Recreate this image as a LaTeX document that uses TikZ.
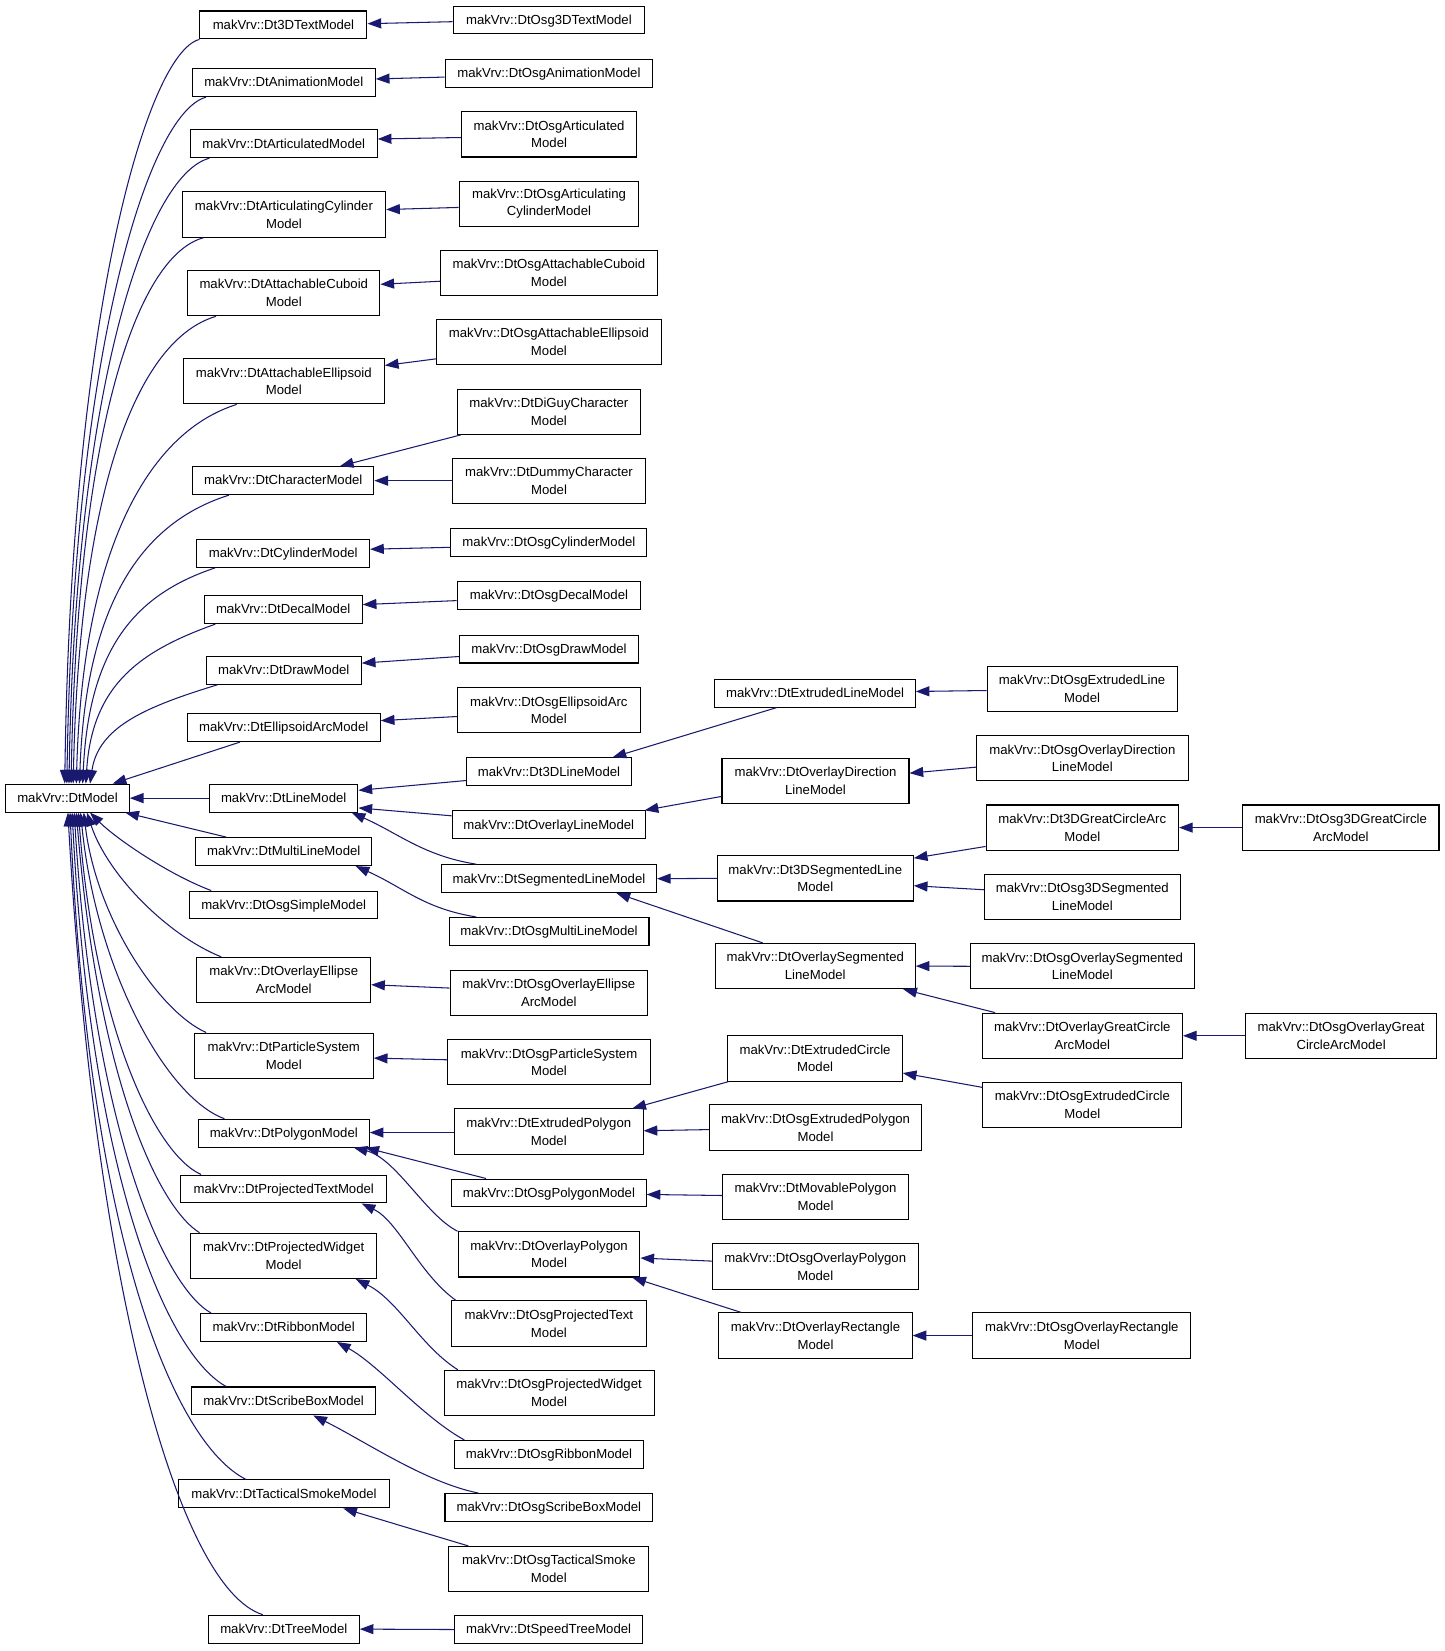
\documentclass[tikz,border=0pt]{standalone}
\usepackage{fontspec}
\setmainfont{Liberation Sans}
\usetikzlibrary{arrows.meta,calc}
\definecolor{edgeblue}{HTML}{191970}
\tikzset{
  cls/.style={draw=black, line width=1pt, fill=white, inner xsep=2pt, inner ysep=0pt, align=center, font=\fontsize{12.5pt}{16.8pt}\selectfont},
  one/.style={cls, minimum height=26.5pt, text height=9.2pt, text depth=1pt},
  two/.style={cls, minimum height=43pt},
  inh/.style={draw=edgeblue, line width=1pt, -{Triangle[length=13pt,width=9.5pt]}},
}
\newcommand\clsA[5]{\node[one, minimum width=#4pt] (#1) at (#2,#3) {makVrv::#5};}
\newcommand\clsB[6]{\node[two, minimum width=#4pt] (#1) at (#2,#3) {makVrv::#5\\#6};}
\newcommand\inhS[4]{\draw[inh] ($(#1)+(#2)$) -- ($(#3)+(#4)$);}
\newcommand\inhC[4]{\path #1 coordinate (cS); \path #4 coordinate (cE);
  \draw[inh] (cS) .. controls ($(cS)+#2$) and ($(cE)+#3$) .. (cE);}
\begin{document}
\begin{tikzpicture}[x=1pt,y=-1pt]
\fill[white] (0,0) rectangle (1372,1568);
\path[use as bounding box] (0,0) rectangle (1372,1568);
% column 1
\clsA{M}{64.1}{758}{117.4}{DtModel}
% column 2
\clsA{a1}{269.2}{23.7}{158.6}{Dt3DTextModel}
\clsA{a2}{269.5}{78.5}{173.8}{DtAnimationModel}
\clsA{a3}{269.5}{136.5}{177.5}{DtArticulatedModel}
\clsB{a4}{269.7}{203.8}{193.1}{DtArticulatingCylinder}{Model}
\clsB{a5}{269.5}{278.4}{182.6}{DtAttachableCuboid}{Model}
\clsB{a6}{269.5}{362.1}{191}{DtAttachableEllipsoid}{Model}
\clsA{a7}{269}{456.5}{172}{DtCharacterModel}
\clsA{a8}{269}{525.5}{164}{DtCylinderModel}
\clsA{a9}{269}{579}{150}{DtDecalModel}
\clsA{a10}{269.5}{636.6}{147.2}{DtDrawModel}
\clsA{a11}{269.4}{691}{183.5}{DtEllipsoidArcModel}
\clsA{a12}{269.4}{758}{141.1}{DtLineModel}
\clsA{a13}{269.5}{808.8}{167.4}{DtMultiLineModel}
\clsA{a14}{269.4}{859.5}{179.1}{DtOsgSimpleModel}
\clsB{a15}{269.5}{930.7}{165}{DtOverlayEllipse}{ArcModel}
\clsB{a16}{269.5}{1002.6}{170}{DtParticleSystem}{Model}
\clsA{a17}{269.5}{1076.2}{162.4}{DtPolygonModel}
\clsA{a18}{269.5}{1129.2}{196}{DtProjectedTextModel}
\clsB{a19}{269.4}{1192.7}{176.7}{DtProjectedWidget}{Model}
\clsA{a20}{269.4}{1260.8}{157.7}{DtRibbonModel}
\clsA{a21}{269.4}{1330.5}{175.3}{DtScribeBoxModel}
\clsA{a22}{269.7}{1418.8}{200}{DtTacticalSmokeModel}
\clsA{a23}{269.5}{1547.2}{143.4}{DtTreeModel}
% column 3
\clsA{b1}{521.3}{19}{181.7}{DtOsg3DTextModel}
\clsA{b2}{521.3}{69.5}{197}{DtOsgAnimationModel}
\clsB{b3}{521.5}{127.6}{166.1}{DtOsgArticulated}{Model}
\clsB{b4}{521.4}{193.5}{170.6}{DtOsgArticulating}{CylinderModel}
\clsB{b5}{521.3}{259.1}{205.7}{DtOsgAttachableCuboid}{Model}
\clsB{b6}{521.3}{324.8}{213.3}{DtOsgAttachableEllipsoid}{Model}
\clsB{b7}{521.3}{391}{174.1}{DtDiGuyCharacter}{Model}
\clsB{b8}{521.4}{456.5}{182.6}{DtDummyCharacter}{Model}
\clsA{b9}{521.3}{515}{186.1}{DtOsgCylinderModel}
\clsA{b10}{521.3}{565.2}{174.1}{DtOsgDecalModel}
\clsA{b11}{521.4}{616.4}{170.3}{DtOsgDrawModel}
\clsB{b12}{521.2}{674.6}{173.7}{DtOsgEllipsoidArc}{Model}
\clsA{b13}{521.4}{733}{156.9}{Dt3DLineModel}
\clsA{b14}{521.2}{783.3}{183.5}{DtOverlayLineModel}
\clsA{b15}{521.4}{834.5}{204.1}{DtSegmentedLineModel}
\clsA{b16}{521.4}{884.6}{189.9}{DtOsgMultiLineModel}
\clsB{b17}{521.2}{943.2}{187.3}{DtOsgOverlayEllipse}{ArcModel}
\clsB{b18}{521.4}{1008.9}{192.9}{DtOsgParticleSystem}{Model}
\clsB{b19}{521.2}{1074.7}{179.1}{DtExtrudedPolygon}{Model}
\clsA{b20}{521.3}{1133}{184.6}{DtOsgPolygonModel}
\clsB{b21}{521.4}{1191.3}{172.7}{DtOverlayPolygon}{Model}
\clsB{b22}{521.3}{1257}{184.6}{DtOsgProjectedText}{Model}
\clsB{b23}{521.5}{1322.9}{199.3}{DtOsgProjectedWidget}{Model}
\clsA{b24}{521.4}{1381.3}{180.2}{DtOsgRibbonModel}
\clsA{b25}{521.3}{1431.7}{197.4}{DtOsgScribeBoxModel}
\clsB{b26}{521.2}{1490.2}{189.9}{DtOsgTacticalSmoke}{Model}
\clsA{b27}{521}{1547.2}{178}{DtSpeedTreeModel}
% column 4
\clsA{c1}{774.1}{658.3}{190.2}{DtExtrudedLineModel}
\clsB{c2}{774.5}{741.6}{177.6}{DtOverlayDirection}{LineModel}
\clsB{c3}{774.3}{834.2}{186.1}{Dt3DSegmentedLine}{Model}
\clsB{c4}{774.3}{917.5}{189.8}{DtOverlaySegmented}{LineModel}
\clsB{c5}{774.1}{1005.2}{165.6}{DtExtrudedCircle}{Model}
\clsB{c6}{774.5}{1070.9}{201.5}{DtOsgExtrudedPolygon}{Model}
\clsB{c7}{774.5}{1136.8}{176}{DtMovablePolygon}{Model}
\clsB{c8}{774.3}{1202.8}{195.2}{DtOsgOverlayPolygon}{Model}
\clsB{c9}{774.5}{1268.4}{183.5}{DtOverlayRectangle}{Model}
% column 5
\clsB{d1}{1027.7}{654.4}{180.3}{DtOsgExtrudedLine}{Model}
\clsB{d2}{1027.9}{720.2}{201.2}{DtOsgOverlayDirection}{LineModel}
\clsB{d3}{1027.9}{786}{182.7}{Dt3DGreatCircleArc}{Model}
\clsB{d4}{1027.9}{851.8}{186.1}{DtOsg3DSegmented}{LineModel}
\clsB{d5}{1027.9}{917.7}{212.8}{DtOsgOverlaySegmented}{LineModel}
\clsB{d6}{1027.9}{983.7}{190.3}{DtOverlayGreatCircle}{ArcModel}
\clsB{d7}{1027.9}{1049.5}{188.9}{DtOsgExtrudedCircle}{Model}
\clsB{d8}{1027.5}{1268.4}{207}{DtOsgOverlayRectangle}{Model}
% column 6
\clsB{e1}{1273.4}{786}{186.5}{DtOsg3DGreatCircle}{ArcModel}
\clsB{e2}{1273.7}{983.7}{181.6}{DtOsgOverlayGreat}{CircleArcModel}

% straight inheritance edges
\inhS{b1.west}{0,1.6}{a1.east}{0,-1.2}
\inhS{b2.west}{0,3.7}{a2.east}{0,-3.5}
\inhS{b3.west}{0,3}{a3.east}{0,-4.5}
\inhS{b4.west}{0,3.5}{a4.east}{0,-4.8}
\inhS{b5.west}{0,8}{a5.east}{0,-8.4}
\inhS{b6.west}{0,16}{a6.east}{0,-15}
\inhS{b7.south west}{4,0}{a7.north}{53.8,0}
\inhS{b8.west}{0,0}{a7.east}{0,0}
\inhS{b9.west}{0,4.8}{a8.east}{0,-3.9}
\inhS{b10.west}{0,5.2}{a9.east}{0,-4.8}
\inhS{b11.west}{0,7.1}{a10.east}{0,-6.8}
\inhS{b12.west}{0,5.9}{a11.east}{0,-6.6}
\inhS{c1.south}{-36.6,0}{b13.north}{60.4,0}
\inhS{b13.west}{0,8.3}{a12.east}{0,-7.4}
\inhS{b14.west}{0,-8.5}{a12.east}{0,9.3}
\inhS{c2.west}{0,14.8}{b14.north east}{-1.2,0}
\inhS{c3.west}{0,0}{b15.east}{0,0}
\inhS{c4.north}{-49.9,0}{b15.south}{64.1,0}
\inhS{b17.west}{0,-4.8}{a15.east}{0,4.5}
\inhS{b18.west}{0,-2.4}{a16.east}{0,2.3}
\inhS{b19.west}{0,0.9}{a17.east}{0,-0.6}
\inhS{c5.south west}{1.2,0}{b19.north}{79.3,0}
\inhS{c6.west}{0,1.9}{b19.east}{0,-0.8}
\inhS{b20.north}{-59.7,0}{a17.south}{77.5,0}
\inhS{c7.west}{0,-1.4}{b20.east}{0,1.4}
\inhS{c8.west}{0,-5.1}{b21.east}{0,3.5}
\inhS{c9.north}{-70.7,0}{b21.south}{79.1,0}
\inhS{b26.north}{-76.4,0}{a22.south}{56.3,0}
\inhS{b27.west}{0,0.4}{a23.east}{0,0}
\inhS{d1.west}{0,1.4}{c1.east}{0,-1.6}
\inhS{d2.west}{0,8.4}{c2.east}{0,-7.3}
\inhS{d3.west}{0,17.9}{c3.east}{0,-19.2}
\inhS{d4.west}{0,-6.8}{c3.east}{0,7}
\inhS{d5.west}{0,0}{c4.east}{0,0}
\inhS{d6.north}{-82.9,0}{c4.south}{83.5,0}
\inhS{d7.west}{0,-16.8}{c5.east}{0,13.9}
\inhS{d8.west}{0,0}{c9.east}{0,0}
\inhS{e1.west}{0,0}{d3.east}{0,0}
\inhS{e2.west}{0,0}{d6.east}{0,0}
\inhS{a12.west}{0,0}{M.east}{0,0}
\inhS{a11.south}{-41.4,0}{M.north}{42.9,0}
\inhS{a13.north}{-54.5,0}{M.south}{54.9,0}

% curved edges between columns 2 and 3
\inhC{($(b15.north)+(-69.1,0)$)}{(-50,-8)}{(45,20)}{($(a12.south)+(64.6,0)$)}
\inhC{($(b16.north)+(-69.1,0)$)}{(-50,-8)}{(45,20)}{($(a13.south)+(68.3,0)$)}
\inhC{(b21.north west)}{(-30,-15)}{(40,10)}{($(a17.south)+(66.5,0)$)}
\inhC{($(b22.north west)+(4.5,0)$)}{(-35,-25)}{(35,17)}{($(a18.south)+(74,0)$)}
\inhC{($(b23.north west)+(13.5,0)$)}{(-35,-22)}{(40,20)}{($(a19.south)+(68.4,0)$)}
\inhC{($(b24.north west)+(10.2,0)$)}{(-40,-22)}{(40,22)}{($(a20.south)+(50.6,0)$)}
\inhC{($(b25.north)+(-67.1,0)$)}{(-50,-10)}{(50,25)}{($(a21.south)+(28.1,0)$)}

% curves to DtModel from above
\inhC{(a1.south west)}{(-50,13)}{(6,-445)}{($(M.north west)+(56.6,0)$)}
\inhC{($(a2.south west)+(13.6,0)$)}{(-55,15)}{(6,-410)}{($(M.north west)+(58.6,0)$)}
\inhC{($(a3.south west)+(18.6,0)$)}{(-60,16)}{(6,-375)}{($(M.north west)+(60.6,0)$)}
\inhC{($(a4.south west)+(20.5,0)$)}{(-65,18)}{(6,-330)}{($(M.north west)+(62.6,0)$)}
\inhC{($(a5.south west)+(27.5,0)$)}{(-75,22)}{(6,-280)}{($(M.north west)+(64.6,0)$)}
\inhC{($(a6.south west)+(51.3,0)$)}{(-80,25)}{(6,-230)}{($(M.north west)+(67.6,0)$)}
\inhC{($(a7.south west)+(35,0)$)}{(-80,25)}{(6,-175)}{($(M.north west)+(70.6,0)$)}
\inhC{($(a8.south west)+(18,0)$)}{(-75,25)}{(6,-130)}{($(M.north west)+(73.6,0)$)}
\inhC{($(a9.south west)+(11,0)$)}{(-70,25)}{(6,-95)}{($(M.north west)+(76.6,0)$)}
\inhC{($(a10.south west)+(11.1,0)$)}{(-65,20)}{(8,-55)}{($(M.north west)+(80.6,0)$)}

% curves to DtModel from below
\inhC{($(a14.north west)+(21.2,0)$)}{(-40,-15)}{(25,25)}{($(M.south west)+(80.6,0)$)}
\inhC{($(a15.north west)+(23.5,0)$)}{(-50,-20)}{(20,60)}{($(M.south west)+(77.6,0)$)}
\inhC{($(a16.north west)+(11.8,0)$)}{(-45,-20)}{(12,100)}{($(M.south west)+(74.6,0)$)}
\inhC{($(a17.north west)+(25.3,0)$)}{(-55,-20)}{(15,150)}{($(M.south west)+(71.6,0)$)}
\inhC{($(a18.north west)+(20,0)$)}{(-45,-20)}{(15,200)}{($(M.south west)+(69.6,0)$)}
\inhC{($(a19.north west)+(8.9,0)$)}{(-40,-25)}{(20,250)}{($(M.south west)+(67.6,0)$)}
\inhC{($(a20.north west)+(10.5,0)$)}{(-45,-25)}{(18,300)}{($(M.south west)+(65.6,0)$)}
\inhC{($(a21.north west)+(33.5,0)$)}{(-55,-30)}{(18,350)}{($(M.south west)+(63.6,0)$)}
\inhC{($(a22.north west)+(64.5,0)$)}{(-70,-35)}{(18,400)}{($(M.south west)+(61.6,0)$)}
\inhC{($(a23.north west)+(52.2,0)$)}{(-80,-25)}{(25,450)}{($(M.south west)+(59.6,0)$)}
\end{tikzpicture}
\end{document}
